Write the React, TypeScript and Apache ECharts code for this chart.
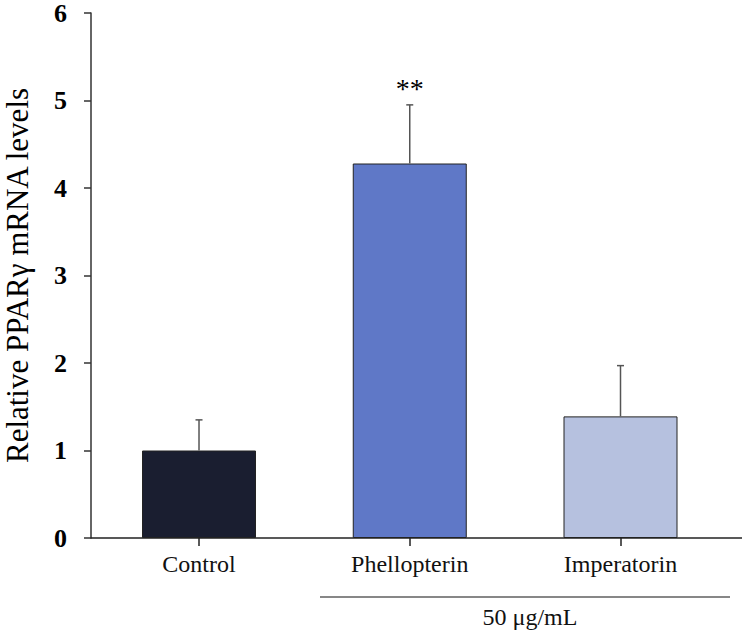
import React, { useEffect, useRef } from "react";
import * as echarts from "echarts";

const categories = ["Control", "Phellopterin", "Imperatorin"];
const means = [1.0, 4.28, 1.39];
const errors = [0.35, 0.67, 0.58];
const significance = ["", "**", ""];
const barColors = ["#1a1e30", "#5f78c7", "#b6c1df"];
const yTicks = [0, 1, 2, 3, 4, 5, 6];
const groupLabel = "50 μg/mL";
const yTitle = "Relative PPARγ mRNA levels";

const SERIF = "'Liberation Serif', 'Times New Roman', serif";

export default function App() {
  const ref = useRef<HTMLDivElement>(null);
  useEffect(() => {
    document.body.style.margin = "0";
    const chart = echarts.init(ref.current!, null, { renderer: "svg" });
    const idx = categories.map((_, i) => i);
    chart.setOption({
      animation: false,
      backgroundColor: "#ffffff",
      grid: { left: 91, top: 13, width: 651, height: 525, containLabel: false, outerBoundsMode: "none" },
      xAxis: {
        type: "value",
        min: -0.5125,
        max: 2.5765,
        splitLine: { show: false },
        axisLine: { show: true, onZero: false, lineStyle: { color: "#222", width: 1.5 } },
        axisTick: { show: true, customValues: idx, length: 8, lineStyle: { color: "#222", width: 1.5 } },
        axisLabel: {
          customValues: idx,
          margin: 14,
          fontFamily: SERIF,
          fontSize: 24,
          color: "#111",
          formatter: (v: number) => categories[Math.round(v)] ?? "",
        },
      },
      yAxis: {
        type: "value",
        min: yTicks[0],
        max: yTicks[yTicks.length - 1],
        interval: 1,
        splitLine: { show: false },
        axisLine: { show: true, onZero: false, lineStyle: { color: "#333", width: 1.5 } },
        axisTick: { show: true, length: 7, lineStyle: { color: "#333", width: 1.5 } },
        axisLabel: { margin: 24, fontFamily: SERIF, fontSize: 26, fontWeight: "bold", color: "#000" },
        name: yTitle,
        nameLocation: "middle",
        nameRotate: 90,
        nameGap: 58,
        nameTextStyle: { fontFamily: SERIF, fontSize: 31, color: "#000" },
      },
      series: [
        {
          type: "bar",
          barWidth: 114,
          data: means.map((m, i) => ({
            value: [i, m],
            itemStyle: { color: barColors[i], borderColor: "#222", borderWidth: 1 },
          })),
        },
        {
          type: "custom",
          data: means.map((m, i) => [i, m, m + errors[i]]),
          z: 5,
          renderItem: (params: any, api: any) => {
            const x = api.value(0);
            const lo = api.coord([x, api.value(1)]);
            const hi = api.coord([x, api.value(2)]);
            const i = params.dataIndex;
            const children: any[] = [
              { type: "line", shape: { x1: lo[0], y1: lo[1], x2: hi[0], y2: hi[1] }, style: { stroke: "#555", lineWidth: 1.5 } },
              { type: "line", shape: { x1: hi[0] - 3.5, y1: hi[1], x2: hi[0] + 3.5, y2: hi[1] }, style: { stroke: "#555", lineWidth: 1.5 } },
            ];
            if (significance[i]) {
              children.push({
                type: "text",
                style: {
                  text: significance[i],
                  x: hi[0],
                  y: hi[1] - 2,
                  align: "center",
                  verticalAlign: "bottom",
                  fontFamily: SERIF,
                  fontSize: 28,
                  fill: "#000",
                },
              });
            }
            return { type: "group", children };
          },
        },
      ],
      graphic: [
        { type: "line", shape: { x1: 320, y1: 597, x2: 730, y2: 597 }, style: { stroke: "#111", lineWidth: 1.2 } },
        {
          type: "text",
          x: 530,
          y: 617,
          style: { text: groupLabel, align: "center", verticalAlign: "middle", fontFamily: SERIF, fontSize: 24, fill: "#111" },
        },
      ],
    });
    return () => chart.dispose();
  }, []);
  return <div ref={ref} style={{ width: 742, height: 635 }} />;
}
